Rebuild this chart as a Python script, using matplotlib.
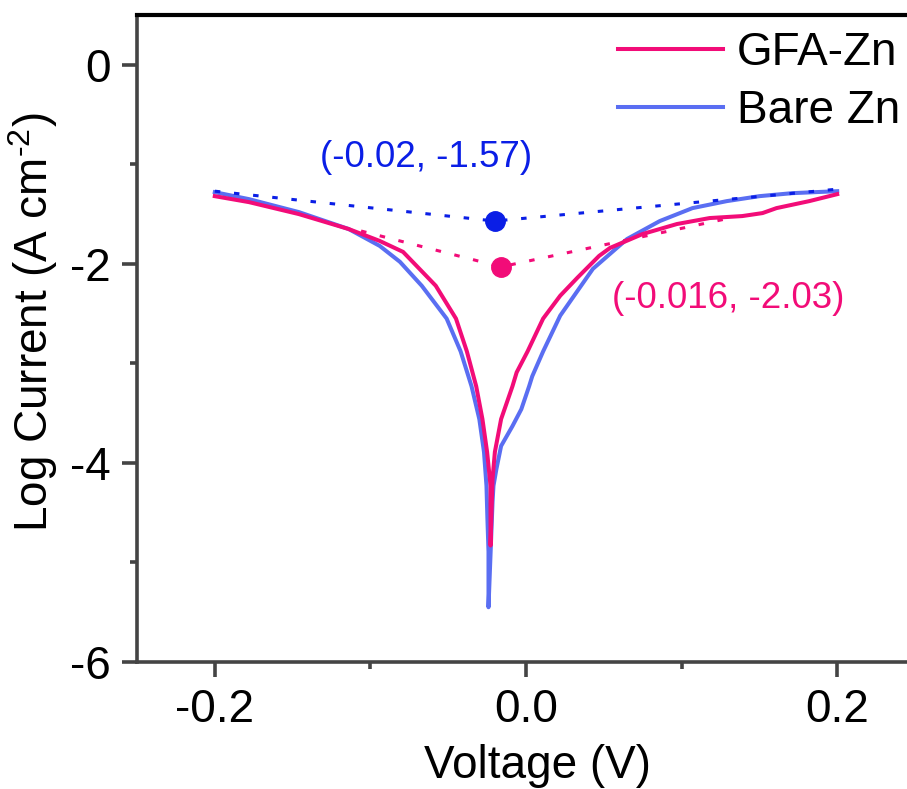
import matplotlib
matplotlib.use('Agg')
import matplotlib.pyplot as plt

plt.rcParams['font.family'] = ['Liberation Sans', 'DejaVu Sans']
plt.rcParams['mathtext.fontset'] = 'custom'
plt.rcParams['mathtext.rm'] = 'Liberation Sans'
plt.rcParams['mathtext.it'] = 'Liberation Sans'

# GFA-Zn Tafel curve (voltage V, log current)
gfa_v = [-0.200, -0.178, -0.146, -0.114, -0.094, -0.079, -0.058, -0.045, -0.038,
         -0.032, -0.028, -0.025, -0.0228, -0.0228, -0.0215, -0.020, -0.016, -0.0087,
         -0.006, 0.001, 0.011, 0.022, 0.033, 0.047, 0.054, 0.075, 0.097, 0.118,
         0.139, 0.152, 0.161, 0.182, 0.200]
gfa_i = [-1.32, -1.38, -1.50, -1.65, -1.77, -1.88, -2.22, -2.55, -2.88,
         -3.23, -3.56, -3.89, -4.23, -4.83, -4.16, -3.89, -3.56, -3.23,
         -3.09, -2.88, -2.55, -2.32, -2.14, -1.92, -1.84, -1.70, -1.60, -1.54,
         -1.52, -1.49, -1.44, -1.37, -1.30]

# Bare Zn Tafel curve
bare_v = [-0.200, -0.178, -0.146, -0.114, -0.094, -0.081, -0.067, -0.051, -0.042,
          -0.035, -0.030, -0.027, -0.0254, -0.0248, -0.0241, -0.0241, -0.0215, -0.0209,
          -0.019, -0.016, -0.0087, -0.003, 0.002, 0.004, 0.011, 0.022, 0.043, 0.065,
          0.086, 0.107, 0.129, 0.150, 0.171, 0.200]
bare_i = [-1.28, -1.35, -1.48, -1.65, -1.82, -1.98, -2.22, -2.55, -2.88,
          -3.23, -3.56, -3.89, -4.23, -4.56, -4.89, -5.45, -4.39, -4.23,
          -4.06, -3.83, -3.63, -3.46, -3.23, -3.13, -2.88, -2.52, -2.05, -1.75,
          -1.57, -1.44, -1.37, -1.32, -1.29, -1.27]

# Tafel extrapolation lines and corrosion points
bare_fit_v = [-0.200, -0.020, 0.200]
bare_fit_i = [-1.27, -1.57, -1.25]
gfa_fit_v = [-0.106, -0.016, 0.128]
gfa_fit_i = [-1.67, -2.03, -1.55]
corr_labels = ['(-0.02, -1.57)', '(-0.016, -2.03)']

pink = '#F20C78'
blue = '#5A6EF2'
dark_blue = '#0A1EE6'

fig = plt.figure(figsize=(9.07, 7.89), dpi=100)
ax = fig.add_axes([137 / 907, 127 / 789, 778 / 907, 647 / 789])

ax.plot(gfa_v, gfa_i, color=pink, lw=2.9, label='GFA-Zn', zorder=3)
ax.plot(bare_v, bare_i, color=blue, lw=2.9, label='Bare Zn', zorder=2)

ax.plot(bare_fit_v, bare_fit_i, color=dark_blue, lw=2.2, ls=(0, (1.8, 4.5)), zorder=4)
ax.plot(gfa_fit_v, gfa_fit_i, color=pink, lw=2.2, ls=(0, (1.8, 4.5)), zorder=4)
ax.plot(bare_fit_v[1], bare_fit_i[1], 'o', color=dark_blue, ms=14, zorder=5)
ax.plot(gfa_fit_v[1], gfa_fit_i[1], 'o', color=pink, ms=14, zorder=5)

ax.text(-0.064, -0.93, corr_labels[0], color=dark_blue, fontsize=26.5,
        ha='center', va='center')
ax.text(0.130, -2.35, corr_labels[1], color=pink, fontsize=26.5,
        ha='center', va='center')

ax.set_xlim(-0.25, 0.25)
ax.set_ylim(-6, 0.5)
ax.set_xticks([-0.2, 0.0, 0.2])
ax.set_xticks([-0.1, 0.1], minor=True)
ax.set_yticks([0, -2, -4, -6])
ax.set_yticks([-1, -3, -5], minor=True)
ax.set_xticklabels(['-0.2', '0.0', '0.2'])
ax.set_yticklabels(['0', '-2', '-4', '-6'])

for side in ['left', 'bottom']:
    ax.spines[side].set_color('#444444')
    ax.spines[side].set_linewidth(2.6)
ax.spines['top'].set_color('black')
ax.spines['top'].set_linewidth(3)
ax.spines['right'].set_visible(False)

ax.tick_params(which='major', direction='out', length=11, width=2.6,
               color='#444444', labelsize=33, pad=8)
ax.tick_params(which='minor', direction='out', length=5, width=2.6,
               color='#444444')
ax.tick_params(top=False, right=False, which='both')

ax.set_xlabel('Voltage (V)', fontsize=33)
ax.set_ylabel(r'Log Current (A cm$^{\text{-2}}$)', fontsize=33)
ax.xaxis.set_label_coords(0.515, -0.126)
ax.yaxis.set_label_coords(-0.099, 0.525)

ax.legend(loc='upper left', bbox_to_anchor=(0.618, 0.975), frameon=False,
          fontsize=33, handlelength=2.3, handletextpad=0.3, borderpad=0,
          borderaxespad=0, labelspacing=0.3)

plt.savefig('out.png', dpi=100)
